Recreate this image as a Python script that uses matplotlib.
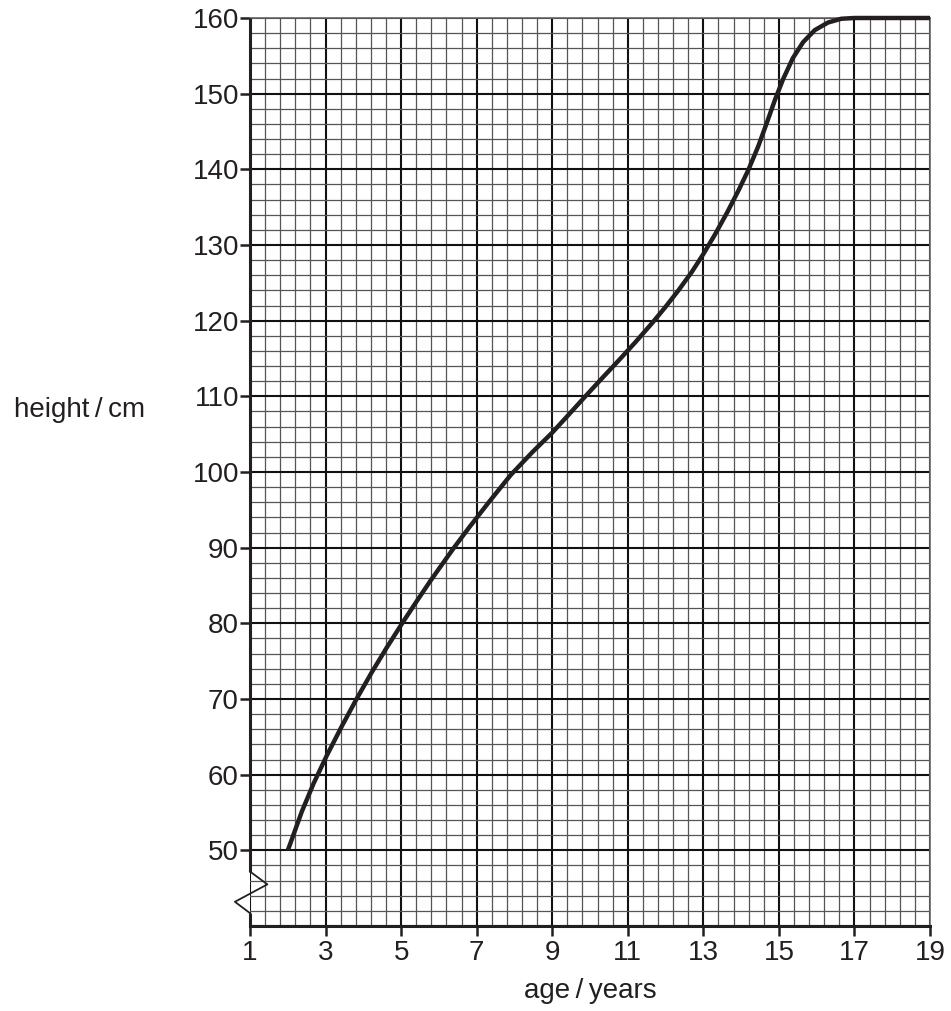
import matplotlib
matplotlib.use('Agg')
import matplotlib.pyplot as plt
from matplotlib.ticker import FixedLocator
import numpy as np

plt.rcParams['font.family'] = ['Liberation Sans', 'DejaVu Sans']

# growth curve
age = [2.0, 2.06, 2.37, 2.68, 3.03, 3.43, 3.82, 4.22, 4.62, 5.04, 5.41, 5.76, 6.0,
       6.4, 6.79, 7.32, 7.90, 8.47, 9.0, 9.44, 9.84, 10.32, 10.77, 11.21, 11.63,
       11.98, 12.34, 12.69, 13.0, 13.31, 13.62, 13.93, 14.19, 14.45, 14.67, 14.89,
       15.11, 15.37, 15.64, 15.95, 16.30, 16.65, 17.0, 19.0]
height = [50.0, 50.8, 55.1, 58.8, 62.5, 66.4, 70.0, 73.5, 76.8, 80.1, 82.9, 85.5, 87.2,
          90.0, 92.6, 96.0, 99.6, 102.6, 105.2, 107.6, 109.8, 112.4, 114.8, 117.2,
          119.6, 121.7, 124.0, 126.4, 128.8, 131.4, 134.2, 137.2, 139.9, 143.0, 146.0,
          149.1, 151.9, 154.7, 156.8, 158.4, 159.4, 159.9, 160.0, 160.0]

x_ticks = [1, 3, 5, 7, 9, 11, 13, 15, 17, 19]
y_ticks = [50, 60, 70, 80, 90, 100, 110, 120, 130, 140, 150, 160]

fig = plt.figure(figsize=(9.51, 10.11), dpi=100)
ax = fig.add_axes([250 / 951, 1 - 926 / 1011, 680 / 951, 908 / 1011])

ax.set_xlim(1, 19)
ax.set_ylim(40, 160)

ax.xaxis.set_major_locator(FixedLocator(x_ticks))
ax.yaxis.set_major_locator(FixedLocator(y_ticks))
ax.xaxis.set_minor_locator(FixedLocator(np.arange(1, 19.01, 0.4)))
ax.yaxis.set_minor_locator(FixedLocator(np.arange(40, 160.01, 2)))

ax.set_axisbelow(True)
ax.grid(True, which='minor', color='#555555', linewidth=0.9)
ax.grid(True, which='major', color='#111111', linewidth=1.5)
ax.axhline(40, color='#111111', linewidth=1.5, zorder=0.5)

ax.tick_params(which='minor', length=0)
ax.tick_params(which='major', direction='out', length=7, width=1.8, labelsize=20,
               colors='#231f20')
ax.tick_params(axis='y', pad=1)
ax.tick_params(axis='x', pad=3)

for side in ['top', 'right']:
    ax.spines[side].set_color('#666666')
    ax.spines[side].set_linewidth(1.2)
ax.spines['bottom'].set_linewidth(2.2)
ax.spines['bottom'].set_color('#231f20')
ax.spines['left'].set_visible(False)

# broken left axis with zigzag
ax.plot([1, 1], [47.2, 160], color='#231f20', linewidth=2.2, clip_on=False,
        solid_capstyle='butt', zorder=3)
ax.plot([1, 1], [40, 41.7], color='#231f20', linewidth=2.2, clip_on=False,
        solid_capstyle='butt', zorder=3)
ax.plot([1, 1.46, 0.6, 1], [47.2, 45.5, 43.2, 41.7], color='#231f20',
        linewidth=1.3, clip_on=False, zorder=3)

ax.plot(age, height, color='#231f20', linewidth=3.2, clip_on=False, zorder=4,
        solid_capstyle='butt', solid_joinstyle='round')

fig.text(80 / 951, 1 - 410 / 1011, 'height\u2009/\u2009cm', fontsize=20,
         color='#231f20', ha='center', va='center')
fig.text(590 / 951, 1 - 991 / 1011, 'age\u2009/\u2009years', fontsize=20,
         color='#231f20', ha='center', va='center')

fig.savefig('out.png', dpi=100)
